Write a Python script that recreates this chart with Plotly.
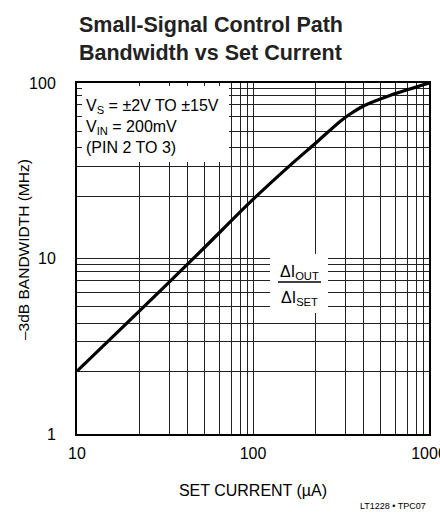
import plotly.graph_objects as go

# ---- data ----
set_current_uA = [10, 20, 50, 100, 160, 230, 310, 360, 430, 600, 1000]
bandwidth_MHz = [2.28, 4.45, 10.9, 21.7, 33.5, 46, 60, 67, 74.5, 85, 100]

x_major = [10, 100, 1000]
y_major = [1, 10, 100]
x_tick_text = ["10", "100", "1000"]
y_tick_text = ["1", "10", "100"]
# positions of the printed minor grid lines inside one decade
grid_factors = [2.27, 3.36, 4.27, 5.3, 6.44, 7.5, 8.45, 9.3]

FONT = "Liberation Sans, Arial, sans-serif"
W, H = 440, 514
ML, MR, MT, MB = 77, 11, 83, 80
PW, PH = W - ML - MR, H - MT - MB


def px(x):
    return (x - ML) / PW


def py(y):
    return (H - MB - y) / PH


x_minor = [f * d for d in (10, 100) for f in grid_factors]
y_minor = [f * d for d in (1, 10) for f in grid_factors]

fig = go.Figure()
fig.add_trace(go.Scatter(
    x=set_current_uA, y=bandwidth_MHz, mode="lines",
    line=dict(color="black", width=3.2, shape="spline", smoothing=0.8),
    hoverinfo="skip", showlegend=False,
))

axis_common = dict(
    type="log", showline=True, mirror=True, linecolor="black", linewidth=2,
    showgrid=True, gridcolor="#222", gridwidth=1, zeroline=False,
    ticks="", tickfont=dict(family=FONT, size=16, color="black"),
    tickmode="array", automargin=False, ticklabeloverflow="allow",
)
fig.update_xaxes(
    **axis_common, range=[1, 3], tickvals=x_major, ticktext=x_tick_text,
    ticklabelstandoff=4,
    minor=dict(tickmode="array", tickvals=x_minor, showgrid=True,
               gridcolor="#222", gridwidth=1, ticks=""),
    title=dict(text="SET CURRENT (µA)", font=dict(family=FONT, size=16, color="black"),
               standoff=24),
)
fig.update_yaxes(
    **axis_common, range=[0, 2], tickvals=y_major, ticktext=y_tick_text,
    ticklabelstandoff=16,
    minor=dict(tickmode="array", tickvals=y_minor, showgrid=True,
               gridcolor="#222", gridwidth=1, ticks=""),
)

shapes = [
    # white boxes behind the labels inside the grid
    dict(type="rect", xref="paper", yref="paper", layer="above",
         x0=px(82), x1=px(229), y0=py(162), y1=py(86),
         fillcolor="white", line=dict(width=0)),
    dict(type="rect", xref="paper", yref="paper", layer="above",
         x0=px(270), x1=px(328), y0=py(313), y1=py(254),
         fillcolor="white", line=dict(width=0)),
    # fraction bar
    dict(type="line", xref="paper", yref="paper", layer="above",
         x0=px(278), x1=px(321), y0=py(282), y1=py(282),
         line=dict(color="black", width=1.5)),
]

annos = []
for txt, yc in [("V<sub>S</sub> = ±2V TO ±15V", 106),
                ("V<sub>IN</sub> = 200mV", 127),
                ("(PIN 2 TO 3)", 147)]:
    annos.append(dict(text=txt, xref="paper", yref="paper", x=px(84), y=py(yc),
                      xanchor="left", yanchor="middle", showarrow=False,
                      font=dict(family=FONT, size=16, color="black")))
annos.append(dict(text="ΔI<sub>OUT</sub>", xref="paper", yref="paper", x=px(299), y=py(272),
                  xanchor="center", yanchor="middle", showarrow=False,
                  font=dict(family=FONT, size=16, color="black")))
annos.append(dict(text="ΔI<sub>SET</sub>", xref="paper", yref="paper", x=px(299), y=py(298),
                  xanchor="center", yanchor="middle", showarrow=False,
                  font=dict(family=FONT, size=16, color="black")))
annos.append(dict(text="–3dB BANDWIDTH (MHz)", xref="paper", yref="paper",
                  x=px(23), y=py(250), xanchor="center", yanchor="middle",
                  textangle=-90, showarrow=False,
                  font=dict(family=FONT, size=15.5, color="black")))
annos.append(dict(text="<b>Small-Signal Control Path<br>Bandwidth vs Set Current</b>",
                  xref="paper", yref="paper", x=0, y=py(11), xanchor="left", yanchor="top",
                  align="left", showarrow=False,
                  font=dict(family=FONT, size=21.5, color="#222")))
annos.append(dict(text="LT1228 • TPC07", xref="paper", yref="paper", x=px(428), y=py(506),
                  xanchor="right", yanchor="middle", showarrow=False,
                  font=dict(family=FONT, size=9, color="black")))

fig.update_layout(
    width=W, height=H, margin=dict(l=ML, r=MR, t=MT, b=MB, autoexpand=False),
    paper_bgcolor="white", plot_bgcolor="white",
    shapes=shapes, annotations=annos, showlegend=False,
)

fig.write_html("out.html", config={"displayModeBar": False, "staticPlot": True},
               post_script="document.body.style.margin='0';document.body.style.overflow='hidden';")
